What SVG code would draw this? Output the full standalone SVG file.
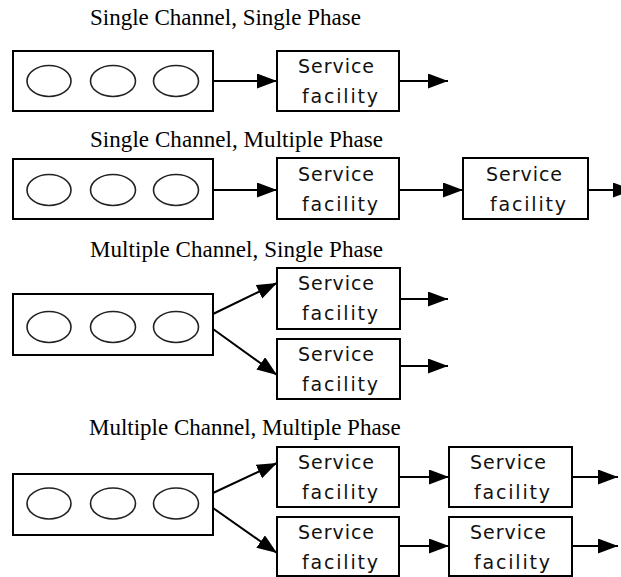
<svg xmlns="http://www.w3.org/2000/svg" width="621" height="577" viewBox="0 0 621 577">
<style>
.title{font-family:"Liberation Serif","Times New Roman",serif;font-size:23px;fill:#000}
.q{fill:#fff;stroke:#000;stroke-width:2}
.e{fill:none;stroke:#222;stroke-width:1.6}
.sf{fill:#fff;stroke:#000;stroke-width:2}
.st{font-family:"DejaVu Sans","Liberation Sans",sans-serif;font-size:19px;fill:#111;text-anchor:middle}
.c{stroke:#000;stroke-width:2;fill:none;marker-end:url(#ah)}
</style>
<defs>
<marker id="ah" markerUnits="userSpaceOnUse" markerWidth="21" markerHeight="16" refX="20" refY="7.5" orient="auto">
<path d="M0,0 L20,7.5 L0,15 z" fill="#000"/>
</marker>
<g id="ellipses">
<ellipse class="e" cx="49" cy="0" rx="22" ry="15.5"/>
<ellipse class="e" cx="113" cy="0" rx="22.5" ry="15.5"/>
<ellipse class="e" cx="176" cy="0" rx="22.5" ry="15.5"/>
</g>
</defs>
<rect width="621" height="577" fill="#fff"/>

<g id="titles">
<text class="title" x="90" y="25">Single Channel, Single Phase</text>
<text class="title" x="90" y="147" textLength="293" lengthAdjust="spacing">Single Channel, Multiple Phase</text>
<text class="title" x="90" y="257" textLength="293" lengthAdjust="spacing">Multiple Channel, Single Phase</text>
<text class="title" x="89" y="435">Multiple Channel, Multiple Phase</text>
</g>

<g id="connectors">
<line class="c" x1="213" y1="81" x2="277" y2="81"/>
<line class="c" x1="399" y1="81" x2="448" y2="81"/>
<line class="c" x1="213" y1="190" x2="277" y2="190"/>
<line class="c" x1="399" y1="190" x2="463" y2="190"/>
<line class="c" x1="588" y1="190" x2="633" y2="190"/>
<line class="c" x1="213" y1="314" x2="277" y2="283"/>
<line class="c" x1="213" y1="329" x2="277" y2="375"/>
<line class="c" x1="400" y1="299" x2="448" y2="299"/>
<line class="c" x1="400" y1="366" x2="448" y2="366"/>
<line class="c" x1="213" y1="493" x2="277" y2="463"/>
<line class="c" x1="213" y1="508" x2="277" y2="553"/>
<line class="c" x1="399" y1="477" x2="449" y2="477"/>
<line class="c" x1="572" y1="477" x2="618" y2="477"/>
<line class="c" x1="399" y1="546" x2="449" y2="546"/>
<line class="c" x1="572" y1="546" x2="618" y2="546"/>
</g>

<g id="queue1"><rect class="q" x="13" y="51" width="200" height="60"/><use href="#ellipses" y="81"/></g>
<g id="service1"><rect class="sf" x="277" y="51" width="122" height="60"/><text class="st" x="336" y="73" textLength="76" lengthAdjust="spacing">Service</text><text class="st" x="340" y="103" textLength="76" lengthAdjust="spacing">facility</text></g>

<g id="queue2"><rect class="q" x="13" y="159" width="200" height="60"/><use href="#ellipses" y="190"/></g>
<g id="service2a"><rect class="sf" x="277" y="158" width="122" height="61"/><text class="st" x="336" y="181" textLength="76" lengthAdjust="spacing">Service</text><text class="st" x="340" y="211" textLength="76" lengthAdjust="spacing">facility</text></g>
<g id="service2b"><rect class="sf" x="463" y="158" width="125" height="61"/><text class="st" x="524" y="181" textLength="76" lengthAdjust="spacing">Service</text><text class="st" x="528" y="211" textLength="76" lengthAdjust="spacing">facility</text></g>

<g id="queue3"><rect class="q" x="13" y="294" width="200" height="61"/><use href="#ellipses" y="327"/></g>
<g id="service3a"><rect class="sf" x="277" y="268" width="123" height="61"/><text class="st" x="336" y="290" textLength="76" lengthAdjust="spacing">Service</text><text class="st" x="340" y="320" textLength="76" lengthAdjust="spacing">facility</text></g>
<g id="service3b"><rect class="sf" x="277" y="339" width="123" height="60"/><text class="st" x="336" y="361" textLength="76" lengthAdjust="spacing">Service</text><text class="st" x="340" y="391" textLength="76" lengthAdjust="spacing">facility</text></g>

<g id="queue4"><rect class="q" x="13" y="474" width="200" height="61"/><use href="#ellipses" y="503.5"/></g>
<g id="service4a"><rect class="sf" x="277" y="447" width="122" height="60"/><text class="st" x="336" y="469" textLength="76" lengthAdjust="spacing">Service</text><text class="st" x="340" y="499" textLength="76" lengthAdjust="spacing">facility</text></g>
<g id="service4b"><rect class="sf" x="449" y="447" width="123" height="60"/><text class="st" x="508" y="469" textLength="76" lengthAdjust="spacing">Service</text><text class="st" x="512" y="499" textLength="76" lengthAdjust="spacing">facility</text></g>
<g id="service4c"><rect class="sf" x="277" y="517" width="122" height="59"/><text class="st" x="336" y="539" textLength="76" lengthAdjust="spacing">Service</text><text class="st" x="340" y="569" textLength="76" lengthAdjust="spacing">facility</text></g>
<g id="service4d"><rect class="sf" x="449" y="517" width="123" height="59"/><text class="st" x="508" y="539" textLength="76" lengthAdjust="spacing">Service</text><text class="st" x="512" y="569" textLength="76" lengthAdjust="spacing">facility</text></g>
</svg>
